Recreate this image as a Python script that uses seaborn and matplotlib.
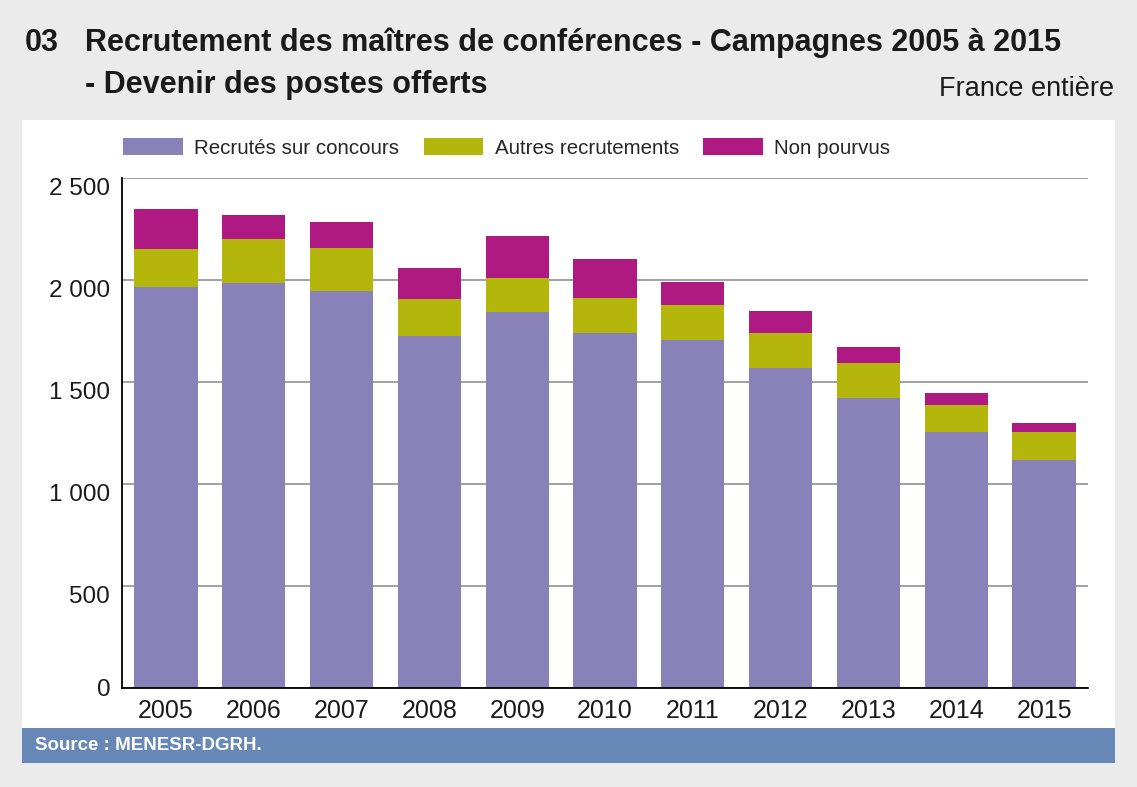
import matplotlib
matplotlib.use("Agg")
import matplotlib.pyplot as plt
from matplotlib.patches import Patch, Rectangle
from matplotlib.ticker import FuncFormatter
import numpy as np
import pandas as pd
import seaborn as sns

# data
annees = ["2005", "2006", "2007", "2008", "2009", "2010", "2011", "2012", "2013", "2014", "2015"]
recrutes_concours = [1967, 1983, 1946, 1726, 1842, 1738, 1707, 1571, 1423, 1255, 1118]
autres_recrutements = [186, 216, 212, 183, 167, 173, 171, 171, 169, 132, 137]
non_pourvus = [196, 118, 126, 149, 207, 193, 110, 108, 79, 58, 43]
yticks = [0, 500, 1000, 1500, 2000, 2500]

series_labels = ["Recrutés sur concours", "Autres recrutements", "Non pourvus"]
colors = ["#8882b9", "#b4b60c", "#ae1a82"]

df = pd.DataFrame({
    "annee": annees,
    "concours": recrutes_concours,
    "autres": autres_recrutements,
    "non_pourvus": non_pourvus,
})
# cumulated heights, drawn from the top layer down so they stack
df["c1"] = df["concours"]
df["c2"] = df["c1"] + df["autres"]
df["c3"] = df["c2"] + df["non_pourvus"]

sns.set_theme(style="white")
plt.rcParams["font.family"] = ["Liberation Sans", "DejaVu Sans"]

W, H = 1137, 787
fig = plt.figure(figsize=(W / 100, H / 100), dpi=100)
fig.patch.set_facecolor("#ebebeb")

# white panel and source band
fig.patches.append(Rectangle((22 / W, 1 - 728 / H), (1115 - 22) / W, (728 - 120) / H,
                             transform=fig.transFigure, facecolor="white", edgecolor="none", zorder=-2))
fig.patches.append(Rectangle((22 / W, 1 - 763 / H), (1115 - 22) / W, (763 - 728) / H,
                             transform=fig.transFigure, facecolor="#6787b7", edgecolor="none", zorder=-2))

ax = fig.add_axes([122 / W, 1 - 688 / H, (1088 - 122) / W, (688 - 178) / H])
ax.set_zorder(2)
ax.set_facecolor("none")

for col, c in zip(["c3", "c2", "c1"], colors[::-1]):
    sns.barplot(data=df, x="annee", y=col, color=c, saturation=1, width=0.72,
                linewidth=0, ax=ax, zorder=3)

ax.set_xlim(-0.5, 10.5)
ax.set_ylim(0, 2500)
ax.set_yticks(yticks)
ax.yaxis.set_major_formatter(FuncFormatter(lambda v, p: f"{int(v):,}".replace(",", " ")))
ax.set_xlabel("")
ax.set_ylabel("")
ax.grid(axis="y", color="#9a9a9a", linewidth=1.3, zorder=0)
ax.set_axisbelow(True)
for s in ["top", "right"]:
    ax.spines[s].set_visible(False)
for s in ["left", "bottom"]:
    ax.spines[s].set_color("black")
    ax.spines[s].set_linewidth(1.3)
    ax.spines[s].set_zorder(5)
ax.tick_params(axis="both", length=0, colors="#1a1a1a")
ax.tick_params(axis="y", pad=8.5, labelsize=17.5)
ax.tick_params(axis="x", pad=8, labelsize=18)
# y labels sit just under their gridline in the original
for v, lab in zip(yticks, ax.get_yticklabels()):
    if v > 0:
        lab.set_verticalalignment("top")

handles = [Patch(facecolor=c, edgecolor="none", label=l) for c, l in zip(colors, series_labels)]
fig.legend(handles=handles, loc="center left", bbox_to_anchor=(123 / W, 1 - 148 / H),
           ncol=3, frameon=False, fontsize=14.8, handlelength=2.9, handleheight=0.85,
           handletextpad=0.55, columnspacing=1.2, borderpad=0, borderaxespad=0)

# titles
fig.text(25 / W, 1 - 51 / H, "03", fontsize=22, fontweight="bold", color="#1a1a1a", va="baseline")
fig.text(85 / W, 1 - 51 / H, "Recrutement des maîtres de conférences - Campagnes 2005 à 2015",
         fontsize=22, fontweight="bold", color="#1a1a1a", va="baseline")
fig.text(85 / W, 1 - 93 / H, "- Devenir des postes offerts",
         fontsize=22, fontweight="bold", color="#1a1a1a", va="baseline")
fig.text(1114 / W, 1 - 96 / H, "France entière", fontsize=19.5, color="#1a1a1a",
         ha="right", va="baseline")
fig.text(35 / W, 1 - 746 / H, "Source : MENESR-DGRH.", fontsize=13.5, fontweight="bold",
         color="white", va="center")

fig.savefig("out.png", dpi=100, facecolor=fig.get_facecolor())
